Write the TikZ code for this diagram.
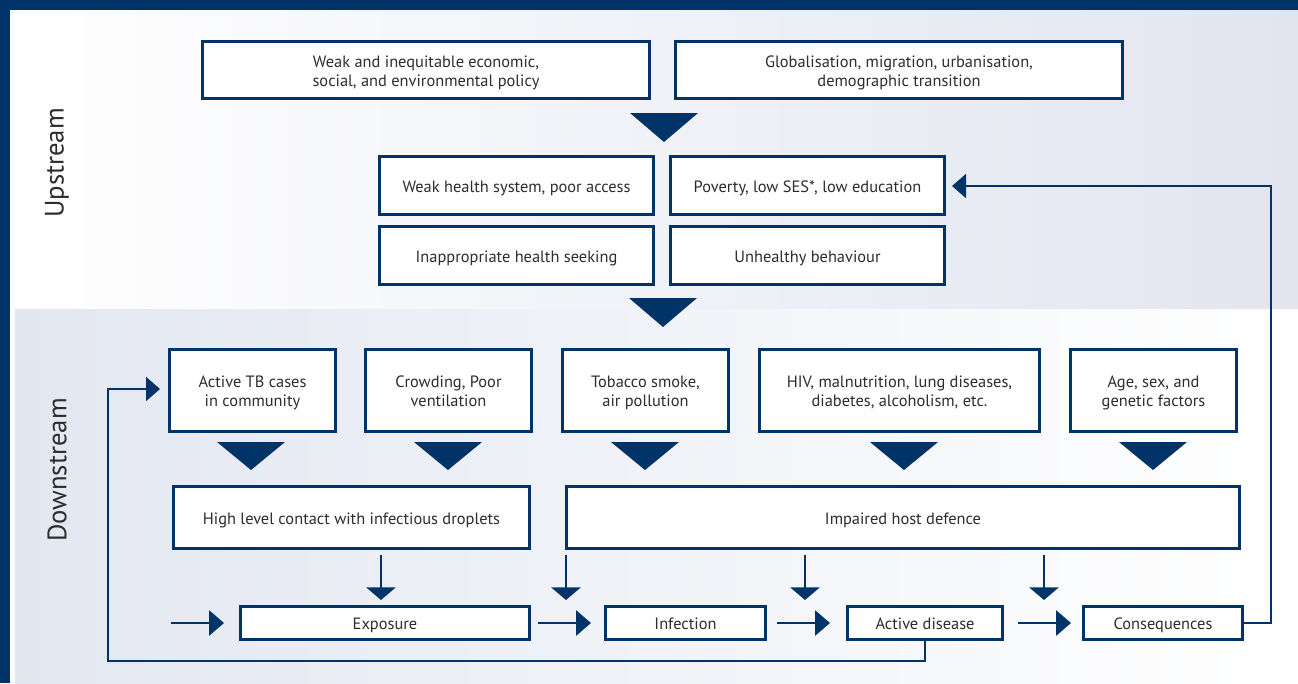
\documentclass[tikz,border=0pt]{standalone}
\usepackage{fontspec}
\setmainfont{PT Sans}
\usetikzlibrary{arrows.meta,calc}
\definecolor{navy}{RGB}{0,52,104}
\definecolor{txt}{RGB}{45,45,45}
\definecolor{upR}{RGB}{226,229,240}
\definecolor{dnL}{RGB}{227,231,241}
\tikzset{
  box/.style={draw=navy, line width=1.9pt, fill=white, inner sep=0pt},
  boxtxt/.style={align=center, text=txt, font=\fontsize{12.3}{14.4}\selectfont, inner sep=0pt},
  lnk/.style={draw=navy, line width=1.5pt},
  harr/.style={lnk, -{Triangle[length=11.25pt,width=19pt]}},
  varr/.style={lnk, -{Triangle[length=9.5pt,width=22pt]}},
  farr/.style={lnk, -{Triangle[length=10.5pt,width=18pt]}},
  tri/.style={fill=navy},
  side/.style={rotate=90, text=txt, font=\fontsize{20}{24}\selectfont}
}
\newcommand{\bx}[6]{\node[box, minimum width={(#4-1.9/0.75)*0.75pt}, minimum height={(#5-1.9/0.75)*0.75pt}] (#1) at (#2,#3) {};
  \node[boxtxt] (#1t) at ($(#1.center)+(0,2.8)$) {\strut #6\strut};}
\newcommand{\dtri}[3]{\fill[tri] (#1-34,#2) -- (#1+34,#2) -- (#1,#3) -- cycle;}
\begin{document}
\begin{tikzpicture}[x=0.75pt,y=-0.75pt]
\useasboundingbox (0,0) rectangle (1298,683);
\fill[white] (0,0) rectangle (1298,683);
\shade[left color=white, right color=upR] (10,10) rectangle (1298,308);
\shade[left color=dnL, right color=white] (15,309) rectangle (1298,683);
\fill[navy] (0,0) rectangle (1298,10);
\fill[navy] (0,0) rectangle (10,683);

\node[side] (up) at (57,163) {Upstream};
\node[side] (down) at (57,470) {Downstream};

\bx{b1}{426}{70}{450}{60}{Weak and inequitable economic,\\social, and environmental policy}
\bx{b2}{899}{70}{450}{60}{Globalisation, migration, urbanisation,\\demographic transition}
\bx{b3}{516.5}{185.5}{277}{61}{Weak health system, poor access}
\bx{b4}{807.5}{185.5}{277}{61}{Poverty, low SES*, low education}
\bx{b5}{516.5}{255.5}{277}{61}{Inappropriate health seeking}
\bx{b6}{807.5}{255.5}{277}{61}{Unhealthy behaviour}
\bx{b7}{252.5}{390.5}{169}{85}{Active TB cases\\in community}
\bx{b8}{448.5}{390.5}{169}{85}{Crowding, Poor\\ventilation}
\bx{b9}{645.5}{390.5}{169}{85}{Tobacco smoke,\\air pollution}
\bx{b10}{899.5}{390.5}{283}{85}{HIV, malnutrition, lung diseases,\\diabetes, alcoholism, etc.}
\bx{b11}{1153.5}{390.5}{169}{85}{Age, sex, and\\genetic factors}
\bx{b12}{351.5}{517.5}{359}{65}{High level contact with infectious droplets}
\bx{b13}{903}{517.5}{676}{65}{Impaired host defence}
\bx{b14}{385}{623}{292}{36}{Exposure}
\bx{b15}{685.5}{623}{163}{36}{Infection}
\bx{b16}{925}{623}{158}{36}{Active disease}
\bx{b17}{1163}{623}{162}{36}{Consequences}

\dtri{664}{113}{142}
\dtri{663}{298}{327}
\dtri{251}{442}{470}
\dtri{448}{442}{470}
\dtri{645}{442}{470}
\dtri{904}{442}{470}
\dtri{1153}{442}{470}

% vertical arrows
\draw[varr] ($(b12.south)+(29.5,5)$) -- ($(b12.south)+(29.5,50)$);
\draw[varr] ($(b13.south)+(-337,5)$) -- ($(b13.south)+(-337,50)$);
\draw[varr] ($(b13.south)+(-98,5)$) -- ($(b13.south)+(-98,50)$);
\draw[varr] ($(b13.south)+(141,5)$) -- ($(b13.south)+(141,50)$);

% horizontal arrows
\coordinate (in) at (171,623);
\draw[harr] (in) -- ($(b14.west)+(-15,0)$);
\draw[harr] ($(b14.east)+(7,0)$) -- ($(b15.west)+(-13,0)$);
\draw[harr] ($(b15.east)+(10,0)$) -- ($(b16.west)+(-16,0)$);
\draw[harr] ($(b16.east)+(14,0)$) -- ($(b17.west)+(-11,0)$);

% feedback loops
\draw[farr] (b16.south) -- ++(0,20) -| (108,389) -- ($(b7.west)+(-8,-1.5)$);
\draw[farr] (b17.east) -| (1271,186) -- ($(b4.east)+(6,0.5)$);
\end{tikzpicture}
\end{document}
